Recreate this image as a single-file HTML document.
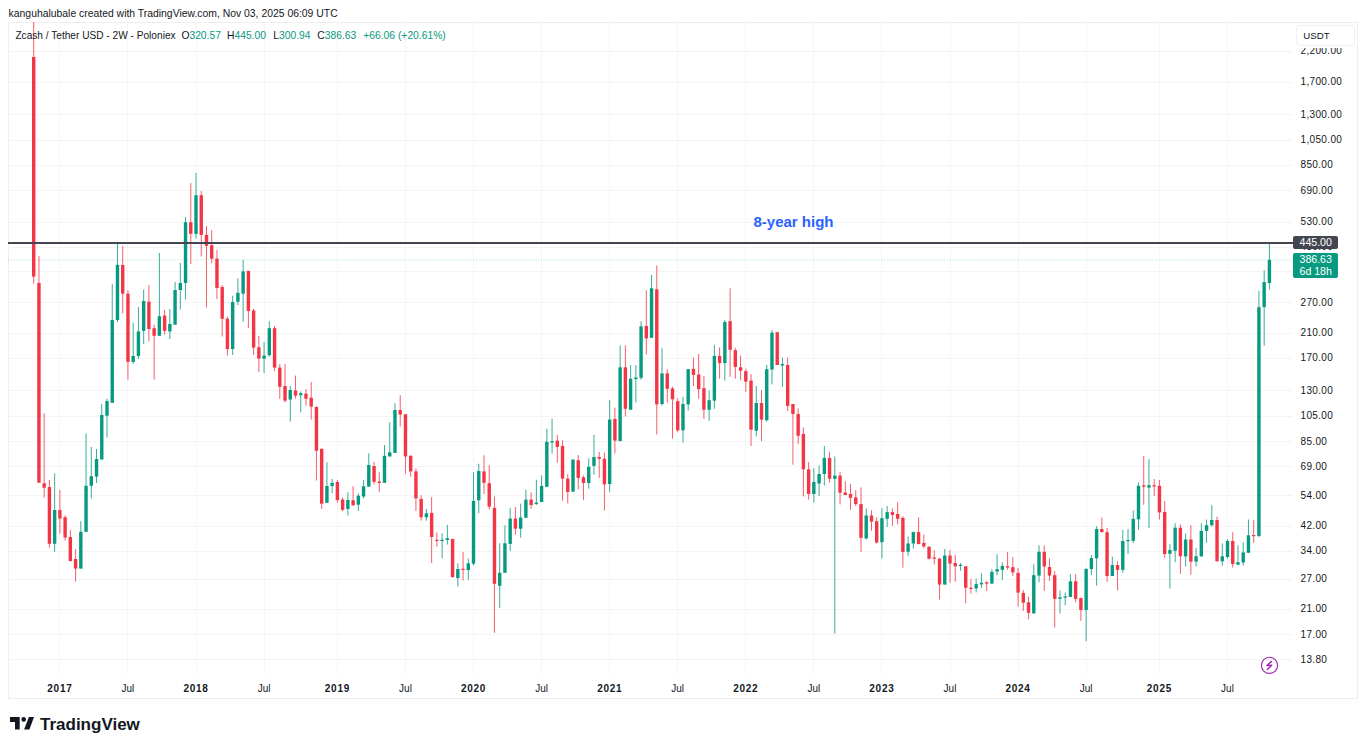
<!DOCTYPE html>
<html><head><meta charset="utf-8"><style>
html,body{margin:0;padding:0;background:#fff;width:1366px;height:748px;overflow:hidden;position:relative;font-family:"Liberation Sans",sans-serif;}
.abs{position:absolute;}
#hdr{position:absolute;left:8.6px;top:7.7px;font-size:10.4px;color:#131722;white-space:nowrap;}
#frame{position:absolute;left:8px;top:22px;width:1350px;height:677px;border:1px solid #eeeeee;box-sizing:border-box;}
.lg{position:absolute;top:29.5px;font-size:10.3px;color:#131722;white-space:nowrap;}
.v{color:#089981;}
.pl{position:absolute;left:1300.5px;font-size:10px;letter-spacing:0.35px;line-height:13px;color:#131722;white-space:nowrap;}
.tl{position:absolute;top:682px;width:60px;text-align:center;font-size:10px;line-height:13px;color:#131722;}
.tl.yr{font-weight:bold;letter-spacing:0.7px;}
#usdt{position:absolute;left:1295.5px;top:25.3px;width:59.3px;height:20.8px;box-sizing:border-box;border:1px solid #eef0f3;border-radius:4px;background:#fff;font-size:9.7px;line-height:19.5px;padding-left:6.8px;color:#131722;}
#b445{position:absolute;left:1293px;top:236px;width:44.7px;height:13.3px;background:#434651;border-radius:2px;color:#fff;font-size:10.6px;line-height:13.3px;padding-left:6.5px;box-sizing:border-box;}
#bcur{position:absolute;left:1293px;top:253.3px;width:44.7px;height:24.4px;background:#089981;border-radius:2px;color:#fff;font-size:10.6px;line-height:11.8px;padding-left:6.5px;padding-top:0.5px;box-sizing:border-box;}
#hi8{position:absolute;left:753.5px;top:213px;font-size:15px;font-weight:bold;color:#2962ff;white-space:nowrap;}
#tvtxt{position:absolute;left:40px;top:715px;font-size:17px;font-weight:bold;color:#131722;white-space:nowrap;}
</style></head><body>
<div id="hdr">kanguhalubale created with TradingView.com, Nov 03, 2025 06:09 UTC</div>
<div id="frame"></div>
<svg class="abs" style="left:0;top:0" width="1366" height="748" viewBox="0 0 1366 748">
<line x1="8" y1="51.5" x2="1292" y2="51.5" stroke="#f4f4f4" stroke-width="1"/>
<line x1="8" y1="82.5" x2="1292" y2="82.5" stroke="#f4f4f4" stroke-width="1"/>
<line x1="8" y1="114.5" x2="1292" y2="114.5" stroke="#f4f4f4" stroke-width="1"/>
<line x1="8" y1="140.5" x2="1292" y2="140.5" stroke="#f4f4f4" stroke-width="1"/>
<line x1="8" y1="165.5" x2="1292" y2="165.5" stroke="#f4f4f4" stroke-width="1"/>
<line x1="8" y1="190.5" x2="1292" y2="190.5" stroke="#f4f4f4" stroke-width="1"/>
<line x1="8" y1="222.5" x2="1292" y2="222.5" stroke="#f4f4f4" stroke-width="1"/>
<line x1="8" y1="247.5" x2="1292" y2="247.5" stroke="#f4f4f4" stroke-width="1"/>
<line x1="8" y1="271.5" x2="1292" y2="271.5" stroke="#f4f4f4" stroke-width="1"/>
<line x1="8" y1="302.5" x2="1292" y2="302.5" stroke="#f4f4f4" stroke-width="1"/>
<line x1="8" y1="333.5" x2="1292" y2="333.5" stroke="#f4f4f4" stroke-width="1"/>
<line x1="8" y1="358.5" x2="1292" y2="358.5" stroke="#f4f4f4" stroke-width="1"/>
<line x1="8" y1="390.5" x2="1292" y2="390.5" stroke="#f4f4f4" stroke-width="1"/>
<line x1="8" y1="416.5" x2="1292" y2="416.5" stroke="#f4f4f4" stroke-width="1"/>
<line x1="8" y1="441.5" x2="1292" y2="441.5" stroke="#f4f4f4" stroke-width="1"/>
<line x1="8" y1="466.5" x2="1292" y2="466.5" stroke="#f4f4f4" stroke-width="1"/>
<line x1="8" y1="495.5" x2="1292" y2="495.5" stroke="#f4f4f4" stroke-width="1"/>
<line x1="8" y1="526.5" x2="1292" y2="526.5" stroke="#f4f4f4" stroke-width="1"/>
<line x1="8" y1="551.5" x2="1292" y2="551.5" stroke="#f4f4f4" stroke-width="1"/>
<line x1="8" y1="579.5" x2="1292" y2="579.5" stroke="#f4f4f4" stroke-width="1"/>
<line x1="8" y1="609.5" x2="1292" y2="609.5" stroke="#f4f4f4" stroke-width="1"/>
<line x1="8" y1="634.5" x2="1292" y2="634.5" stroke="#f4f4f4" stroke-width="1"/>
<line x1="8" y1="659.5" x2="1292" y2="659.5" stroke="#f4f4f4" stroke-width="1"/>
<line x1="59.5" y1="22" x2="59.5" y2="675" stroke="#f6f6f6" stroke-width="1"/>
<line x1="127.5" y1="22" x2="127.5" y2="675" stroke="#f6f6f6" stroke-width="1"/>
<line x1="196.5" y1="22" x2="196.5" y2="675" stroke="#f6f6f6" stroke-width="1"/>
<line x1="264.5" y1="22" x2="264.5" y2="675" stroke="#f6f6f6" stroke-width="1"/>
<line x1="337.5" y1="22" x2="337.5" y2="675" stroke="#f6f6f6" stroke-width="1"/>
<line x1="405.5" y1="22" x2="405.5" y2="675" stroke="#f6f6f6" stroke-width="1"/>
<line x1="473.5" y1="22" x2="473.5" y2="675" stroke="#f6f6f6" stroke-width="1"/>
<line x1="541.5" y1="22" x2="541.5" y2="675" stroke="#f6f6f6" stroke-width="1"/>
<line x1="609.5" y1="22" x2="609.5" y2="675" stroke="#f6f6f6" stroke-width="1"/>
<line x1="677.5" y1="22" x2="677.5" y2="675" stroke="#f6f6f6" stroke-width="1"/>
<line x1="745.5" y1="22" x2="745.5" y2="675" stroke="#f6f6f6" stroke-width="1"/>
<line x1="813.5" y1="22" x2="813.5" y2="675" stroke="#f6f6f6" stroke-width="1"/>
<line x1="881.5" y1="22" x2="881.5" y2="675" stroke="#f6f6f6" stroke-width="1"/>
<line x1="950.5" y1="22" x2="950.5" y2="675" stroke="#f6f6f6" stroke-width="1"/>
<line x1="1018.5" y1="22" x2="1018.5" y2="675" stroke="#f6f6f6" stroke-width="1"/>
<line x1="1086.5" y1="22" x2="1086.5" y2="675" stroke="#f6f6f6" stroke-width="1"/>
<line x1="1159.5" y1="22" x2="1159.5" y2="675" stroke="#f6f6f6" stroke-width="1"/>
<line x1="1227.5" y1="22" x2="1227.5" y2="675" stroke="#f6f6f6" stroke-width="1"/>
<line x1="8" y1="259.8" x2="1292" y2="259.8" stroke="#089981" stroke-width="1" stroke-dasharray="1 1.6" opacity="0.3"/>
<rect x="33.20" y="22.0" width="1" height="261.8" fill="#f23645" opacity="0.8"/>
<rect x="38.44" y="256.0" width="1" height="226.7" fill="#f23645" opacity="0.8"/>
<rect x="43.67" y="413.2" width="1" height="84.4" fill="#f23645" opacity="0.8"/>
<rect x="48.91" y="480.0" width="1" height="67.6" fill="#f23645" opacity="0.8"/>
<rect x="54.14" y="473.4" width="1" height="78.4" fill="#089981" opacity="0.8"/>
<rect x="59.38" y="490.0" width="1" height="43.7" fill="#f23645" opacity="0.8"/>
<rect x="64.62" y="515.3" width="1" height="25.1" fill="#f23645" opacity="0.8"/>
<rect x="69.85" y="530.0" width="1" height="31.7" fill="#f23645" opacity="0.8"/>
<rect x="75.09" y="549.0" width="1" height="32.5" fill="#f23645" opacity="0.8"/>
<rect x="80.32" y="521.0" width="1" height="47.6" fill="#089981" opacity="0.8"/>
<rect x="85.56" y="433.4" width="1" height="98.4" fill="#089981" opacity="0.8"/>
<rect x="90.80" y="447.0" width="1" height="51.5" fill="#089981" opacity="0.8"/>
<rect x="96.03" y="449.0" width="1" height="34.0" fill="#089981" opacity="0.8"/>
<rect x="101.27" y="404.0" width="1" height="55.5" fill="#089981" opacity="0.8"/>
<rect x="106.50" y="398.6" width="1" height="39.0" fill="#089981" opacity="0.8"/>
<rect x="111.74" y="284.0" width="1" height="118.8" fill="#089981" opacity="0.8"/>
<rect x="116.98" y="243.0" width="1" height="78.9" fill="#089981" opacity="0.8"/>
<rect x="122.21" y="246.0" width="1" height="67.3" fill="#f23645" opacity="0.8"/>
<rect x="127.45" y="290.0" width="1" height="89.6" fill="#f23645" opacity="0.8"/>
<rect x="132.68" y="322.5" width="1" height="41.5" fill="#089981" opacity="0.8"/>
<rect x="137.92" y="307.0" width="1" height="52.0" fill="#089981" opacity="0.8"/>
<rect x="143.16" y="289.5" width="1" height="54.3" fill="#089981" opacity="0.8"/>
<rect x="148.39" y="285.0" width="1" height="56.5" fill="#f23645" opacity="0.8"/>
<rect x="153.63" y="324.7" width="1" height="54.9" fill="#f23645" opacity="0.8"/>
<rect x="158.86" y="253.0" width="1" height="82.8" fill="#089981" opacity="0.8"/>
<rect x="164.10" y="310.0" width="1" height="24.6" fill="#f23645" opacity="0.8"/>
<rect x="169.34" y="309.0" width="1" height="30.0" fill="#089981" opacity="0.8"/>
<rect x="174.57" y="282.0" width="1" height="42.7" fill="#089981" opacity="0.8"/>
<rect x="179.81" y="263.0" width="1" height="46.5" fill="#089981" opacity="0.8"/>
<rect x="185.04" y="217.1" width="1" height="82.3" fill="#089981" opacity="0.8"/>
<rect x="190.28" y="183.1" width="1" height="80.9" fill="#f23645" opacity="0.8"/>
<rect x="195.52" y="172.9" width="1" height="65.6" fill="#089981" opacity="0.8"/>
<rect x="200.75" y="191.0" width="1" height="65.6" fill="#f23645" opacity="0.8"/>
<rect x="205.99" y="226.0" width="1" height="81.6" fill="#f23645" opacity="0.8"/>
<rect x="211.22" y="230.0" width="1" height="33.0" fill="#f23645" opacity="0.8"/>
<rect x="216.46" y="250.0" width="1" height="49.0" fill="#f23645" opacity="0.8"/>
<rect x="221.70" y="285.0" width="1" height="51.5" fill="#f23645" opacity="0.8"/>
<rect x="226.93" y="316.7" width="1" height="38.9" fill="#f23645" opacity="0.8"/>
<rect x="232.17" y="295.6" width="1" height="59.4" fill="#089981" opacity="0.8"/>
<rect x="237.40" y="278.5" width="1" height="26.5" fill="#089981" opacity="0.8"/>
<rect x="242.64" y="260.0" width="1" height="61.9" fill="#089981" opacity="0.8"/>
<rect x="247.88" y="270.9" width="1" height="57.1" fill="#f23645" opacity="0.8"/>
<rect x="253.11" y="309.0" width="1" height="46.0" fill="#f23645" opacity="0.8"/>
<rect x="258.35" y="336.0" width="1" height="36.0" fill="#f23645" opacity="0.8"/>
<rect x="263.58" y="342.0" width="1" height="31.0" fill="#089981" opacity="0.8"/>
<rect x="268.82" y="321.3" width="1" height="35.4" fill="#089981" opacity="0.8"/>
<rect x="274.06" y="326.0" width="1" height="45.0" fill="#f23645" opacity="0.8"/>
<rect x="279.29" y="364.0" width="1" height="35.0" fill="#f23645" opacity="0.8"/>
<rect x="284.53" y="364.0" width="1" height="38.5" fill="#f23645" opacity="0.8"/>
<rect x="289.76" y="386.0" width="1" height="35.5" fill="#089981" opacity="0.8"/>
<rect x="295.00" y="375.6" width="1" height="23.1" fill="#f23645" opacity="0.8"/>
<rect x="300.24" y="391.4" width="1" height="21.0" fill="#089981" opacity="0.8"/>
<rect x="305.47" y="389.0" width="1" height="16.7" fill="#f23645" opacity="0.8"/>
<rect x="310.71" y="382.0" width="1" height="37.6" fill="#f23645" opacity="0.8"/>
<rect x="315.94" y="406.3" width="1" height="74.2" fill="#f23645" opacity="0.8"/>
<rect x="321.18" y="448.0" width="1" height="61.0" fill="#f23645" opacity="0.8"/>
<rect x="326.42" y="462.2" width="1" height="40.6" fill="#089981" opacity="0.8"/>
<rect x="331.65" y="479.0" width="1" height="14.2" fill="#089981" opacity="0.8"/>
<rect x="336.89" y="480.0" width="1" height="22.8" fill="#f23645" opacity="0.8"/>
<rect x="342.12" y="497.6" width="1" height="13.7" fill="#f23645" opacity="0.8"/>
<rect x="347.36" y="492.3" width="1" height="23.2" fill="#089981" opacity="0.8"/>
<rect x="352.60" y="486.2" width="1" height="19.8" fill="#f23645" opacity="0.8"/>
<rect x="357.83" y="493.2" width="1" height="17.8" fill="#089981" opacity="0.8"/>
<rect x="363.07" y="480.0" width="1" height="18.4" fill="#089981" opacity="0.8"/>
<rect x="368.30" y="453.3" width="1" height="33.3" fill="#089981" opacity="0.8"/>
<rect x="373.54" y="461.8" width="1" height="22.5" fill="#f23645" opacity="0.8"/>
<rect x="378.78" y="472.3" width="1" height="19.7" fill="#f23645" opacity="0.8"/>
<rect x="384.01" y="445.0" width="1" height="37.8" fill="#089981" opacity="0.8"/>
<rect x="389.25" y="422.3" width="1" height="34.2" fill="#089981" opacity="0.8"/>
<rect x="394.48" y="403.2" width="1" height="49.7" fill="#089981" opacity="0.8"/>
<rect x="399.72" y="395.2" width="1" height="31.4" fill="#f23645" opacity="0.8"/>
<rect x="404.96" y="414.3" width="1" height="59.3" fill="#f23645" opacity="0.8"/>
<rect x="410.19" y="455.2" width="1" height="21.5" fill="#f23645" opacity="0.8"/>
<rect x="415.43" y="468.5" width="1" height="42.5" fill="#f23645" opacity="0.8"/>
<rect x="420.66" y="495.2" width="1" height="25.3" fill="#f23645" opacity="0.8"/>
<rect x="425.90" y="509.0" width="1" height="11.6" fill="#089981" opacity="0.8"/>
<rect x="431.14" y="497.0" width="1" height="66.0" fill="#f23645" opacity="0.8"/>
<rect x="436.37" y="532.5" width="1" height="14.0" fill="#f23645" opacity="0.8"/>
<rect x="441.61" y="533.2" width="1" height="25.3" fill="#089981" opacity="0.8"/>
<rect x="446.84" y="524.8" width="1" height="19.8" fill="#089981" opacity="0.8"/>
<rect x="452.08" y="538.9" width="1" height="39.1" fill="#f23645" opacity="0.8"/>
<rect x="457.32" y="563.3" width="1" height="23.2" fill="#089981" opacity="0.8"/>
<rect x="462.55" y="551.9" width="1" height="28.5" fill="#f23645" opacity="0.8"/>
<rect x="467.79" y="558.5" width="1" height="21.5" fill="#089981" opacity="0.8"/>
<rect x="473.02" y="472.3" width="1" height="93.3" fill="#089981" opacity="0.8"/>
<rect x="478.26" y="463.7" width="1" height="49.6" fill="#089981" opacity="0.8"/>
<rect x="483.50" y="455.2" width="1" height="39.0" fill="#f23645" opacity="0.8"/>
<rect x="488.73" y="465.3" width="1" height="44.1" fill="#f23645" opacity="0.8"/>
<rect x="493.97" y="496.5" width="1" height="136.3" fill="#f23645" opacity="0.8"/>
<rect x="499.20" y="543.3" width="1" height="64.7" fill="#089981" opacity="0.8"/>
<rect x="504.44" y="525.2" width="1" height="47.6" fill="#089981" opacity="0.8"/>
<rect x="509.68" y="508.0" width="1" height="43.0" fill="#089981" opacity="0.8"/>
<rect x="514.91" y="507.0" width="1" height="27.7" fill="#f23645" opacity="0.8"/>
<rect x="520.15" y="503.7" width="1" height="33.9" fill="#089981" opacity="0.8"/>
<rect x="525.38" y="489.7" width="1" height="28.2" fill="#089981" opacity="0.8"/>
<rect x="530.62" y="492.5" width="1" height="16.2" fill="#f23645" opacity="0.8"/>
<rect x="535.86" y="479.8" width="1" height="25.2" fill="#089981" opacity="0.8"/>
<rect x="541.09" y="475.4" width="1" height="26.6" fill="#089981" opacity="0.8"/>
<rect x="546.33" y="428.8" width="1" height="58.0" fill="#089981" opacity="0.8"/>
<rect x="551.56" y="418.9" width="1" height="34.6" fill="#089981" opacity="0.8"/>
<rect x="556.80" y="434.9" width="1" height="27.8" fill="#f23645" opacity="0.8"/>
<rect x="562.04" y="440.2" width="1" height="60.5" fill="#f23645" opacity="0.8"/>
<rect x="567.27" y="474.0" width="1" height="29.4" fill="#f23645" opacity="0.8"/>
<rect x="572.51" y="459.2" width="1" height="32.4" fill="#089981" opacity="0.8"/>
<rect x="577.74" y="455.0" width="1" height="34.3" fill="#f23645" opacity="0.8"/>
<rect x="582.98" y="475.4" width="1" height="24.7" fill="#f23645" opacity="0.8"/>
<rect x="588.22" y="458.3" width="1" height="30.4" fill="#089981" opacity="0.8"/>
<rect x="593.45" y="434.9" width="1" height="39.9" fill="#089981" opacity="0.8"/>
<rect x="598.69" y="452.0" width="1" height="25.9" fill="#f23645" opacity="0.8"/>
<rect x="603.92" y="452.6" width="1" height="58.0" fill="#f23645" opacity="0.8"/>
<rect x="609.16" y="400.2" width="1" height="91.8" fill="#089981" opacity="0.8"/>
<rect x="614.40" y="407.5" width="1" height="46.0" fill="#f23645" opacity="0.8"/>
<rect x="619.63" y="345.4" width="1" height="95.7" fill="#089981" opacity="0.8"/>
<rect x="624.87" y="345.4" width="1" height="71.0" fill="#f23645" opacity="0.8"/>
<rect x="630.10" y="365.0" width="1" height="44.7" fill="#089981" opacity="0.8"/>
<rect x="635.34" y="365.0" width="1" height="37.5" fill="#089981" opacity="0.8"/>
<rect x="640.58" y="321.2" width="1" height="58.5" fill="#089981" opacity="0.8"/>
<rect x="645.81" y="290.2" width="1" height="64.2" fill="#f23645" opacity="0.8"/>
<rect x="651.05" y="275.0" width="1" height="62.8" fill="#089981" opacity="0.8"/>
<rect x="656.28" y="265.5" width="1" height="169.0" fill="#f23645" opacity="0.8"/>
<rect x="661.52" y="348.3" width="1" height="57.3" fill="#089981" opacity="0.8"/>
<rect x="666.76" y="369.2" width="1" height="33.3" fill="#f23645" opacity="0.8"/>
<rect x="671.99" y="386.7" width="1" height="52.0" fill="#f23645" opacity="0.8"/>
<rect x="677.23" y="398.3" width="1" height="33.9" fill="#f23645" opacity="0.8"/>
<rect x="682.46" y="396.8" width="1" height="45.7" fill="#089981" opacity="0.8"/>
<rect x="687.70" y="368.8" width="1" height="41.9" fill="#089981" opacity="0.8"/>
<rect x="692.94" y="357.8" width="1" height="28.2" fill="#f23645" opacity="0.8"/>
<rect x="698.17" y="354.0" width="1" height="44.7" fill="#f23645" opacity="0.8"/>
<rect x="703.41" y="375.9" width="1" height="43.0" fill="#f23645" opacity="0.8"/>
<rect x="708.64" y="390.5" width="1" height="30.3" fill="#089981" opacity="0.8"/>
<rect x="713.88" y="344.8" width="1" height="64.0" fill="#089981" opacity="0.8"/>
<rect x="719.12" y="347.3" width="1" height="31.4" fill="#f23645" opacity="0.8"/>
<rect x="724.35" y="320.0" width="1" height="60.6" fill="#089981" opacity="0.8"/>
<rect x="729.59" y="288.3" width="1" height="88.5" fill="#f23645" opacity="0.8"/>
<rect x="734.82" y="347.9" width="1" height="30.8" fill="#f23645" opacity="0.8"/>
<rect x="740.06" y="355.5" width="1" height="24.7" fill="#f23645" opacity="0.8"/>
<rect x="745.30" y="368.8" width="1" height="22.9" fill="#f23645" opacity="0.8"/>
<rect x="750.53" y="374.0" width="1" height="71.9" fill="#f23645" opacity="0.8"/>
<rect x="755.77" y="386.0" width="1" height="50.4" fill="#089981" opacity="0.8"/>
<rect x="761.00" y="390.0" width="1" height="51.1" fill="#f23645" opacity="0.8"/>
<rect x="766.24" y="365.0" width="1" height="56.5" fill="#089981" opacity="0.8"/>
<rect x="771.48" y="330.2" width="1" height="54.2" fill="#089981" opacity="0.8"/>
<rect x="776.71" y="332.0" width="1" height="33.0" fill="#f23645" opacity="0.8"/>
<rect x="781.95" y="357.7" width="1" height="29.2" fill="#089981" opacity="0.8"/>
<rect x="787.18" y="357.7" width="1" height="53.3" fill="#f23645" opacity="0.8"/>
<rect x="792.42" y="404.0" width="1" height="60.7" fill="#f23645" opacity="0.8"/>
<rect x="797.66" y="408.4" width="1" height="35.6" fill="#f23645" opacity="0.8"/>
<rect x="802.89" y="427.4" width="1" height="69.1" fill="#f23645" opacity="0.8"/>
<rect x="808.13" y="462.0" width="1" height="37.7" fill="#f23645" opacity="0.8"/>
<rect x="813.36" y="468.3" width="1" height="34.3" fill="#089981" opacity="0.8"/>
<rect x="818.60" y="465.5" width="1" height="30.4" fill="#089981" opacity="0.8"/>
<rect x="823.84" y="445.9" width="1" height="39.6" fill="#089981" opacity="0.8"/>
<rect x="829.07" y="452.1" width="1" height="30.5" fill="#f23645" opacity="0.8"/>
<rect x="834.31" y="456.5" width="1" height="177.2" fill="#089981" opacity="0.8"/>
<rect x="839.54" y="471.7" width="1" height="32.8" fill="#f23645" opacity="0.8"/>
<rect x="844.78" y="481.3" width="1" height="13.7" fill="#f23645" opacity="0.8"/>
<rect x="850.02" y="484.0" width="1" height="25.8" fill="#f23645" opacity="0.8"/>
<rect x="855.25" y="490.2" width="1" height="15.8" fill="#f23645" opacity="0.8"/>
<rect x="860.49" y="487.4" width="1" height="64.4" fill="#f23645" opacity="0.8"/>
<rect x="865.72" y="508.3" width="1" height="31.4" fill="#089981" opacity="0.8"/>
<rect x="870.96" y="510.2" width="1" height="20.6" fill="#f23645" opacity="0.8"/>
<rect x="876.20" y="517.4" width="1" height="26.1" fill="#f23645" opacity="0.8"/>
<rect x="881.43" y="508.3" width="1" height="50.2" fill="#089981" opacity="0.8"/>
<rect x="886.67" y="506.0" width="1" height="21.0" fill="#089981" opacity="0.8"/>
<rect x="891.90" y="508.3" width="1" height="17.5" fill="#f23645" opacity="0.8"/>
<rect x="897.14" y="502.2" width="1" height="22.3" fill="#f23645" opacity="0.8"/>
<rect x="902.38" y="516.3" width="1" height="51.4" fill="#f23645" opacity="0.8"/>
<rect x="907.61" y="536.5" width="1" height="19.4" fill="#089981" opacity="0.8"/>
<rect x="912.85" y="531.5" width="1" height="17.1" fill="#089981" opacity="0.8"/>
<rect x="918.08" y="517.4" width="1" height="26.7" fill="#f23645" opacity="0.8"/>
<rect x="923.32" y="534.6" width="1" height="13.7" fill="#f23645" opacity="0.8"/>
<rect x="928.56" y="546.4" width="1" height="13.3" fill="#f23645" opacity="0.8"/>
<rect x="933.79" y="550.2" width="1" height="14.2" fill="#f23645" opacity="0.8"/>
<rect x="939.03" y="557.8" width="1" height="41.7" fill="#f23645" opacity="0.8"/>
<rect x="944.26" y="549.0" width="1" height="35.6" fill="#089981" opacity="0.8"/>
<rect x="949.50" y="550.2" width="1" height="32.5" fill="#f23645" opacity="0.8"/>
<rect x="954.74" y="555.0" width="1" height="26.7" fill="#f23645" opacity="0.8"/>
<rect x="959.97" y="563.0" width="1" height="7.7" fill="#089981" opacity="0.8"/>
<rect x="965.21" y="566.3" width="1" height="37.0" fill="#f23645" opacity="0.8"/>
<rect x="970.44" y="579.0" width="1" height="14.7" fill="#f23645" opacity="0.8"/>
<rect x="975.68" y="578.7" width="1" height="13.7" fill="#089981" opacity="0.8"/>
<rect x="980.92" y="573.2" width="1" height="14.8" fill="#089981" opacity="0.8"/>
<rect x="986.15" y="581.0" width="1" height="10.0" fill="#f23645" opacity="0.8"/>
<rect x="991.39" y="569.1" width="1" height="14.5" fill="#089981" opacity="0.8"/>
<rect x="996.62" y="554.2" width="1" height="21.1" fill="#089981" opacity="0.8"/>
<rect x="1001.86" y="562.4" width="1" height="17.4" fill="#089981" opacity="0.8"/>
<rect x="1007.10" y="551.9" width="1" height="17.9" fill="#f23645" opacity="0.8"/>
<rect x="1012.33" y="556.9" width="1" height="19.1" fill="#f23645" opacity="0.8"/>
<rect x="1017.57" y="568.1" width="1" height="38.4" fill="#f23645" opacity="0.8"/>
<rect x="1022.80" y="590.0" width="1" height="20.9" fill="#f23645" opacity="0.8"/>
<rect x="1028.04" y="596.6" width="1" height="22.6" fill="#f23645" opacity="0.8"/>
<rect x="1033.28" y="564.2" width="1" height="49.2" fill="#089981" opacity="0.8"/>
<rect x="1038.51" y="545.2" width="1" height="37.1" fill="#089981" opacity="0.8"/>
<rect x="1043.75" y="545.5" width="1" height="45.4" fill="#f23645" opacity="0.8"/>
<rect x="1048.98" y="558.5" width="1" height="22.5" fill="#f23645" opacity="0.8"/>
<rect x="1054.22" y="570.9" width="1" height="56.6" fill="#f23645" opacity="0.8"/>
<rect x="1059.46" y="590.5" width="1" height="22.9" fill="#089981" opacity="0.8"/>
<rect x="1064.69" y="592.4" width="1" height="12.8" fill="#089981" opacity="0.8"/>
<rect x="1069.93" y="574.1" width="1" height="22.9" fill="#089981" opacity="0.8"/>
<rect x="1075.16" y="574.1" width="1" height="28.2" fill="#f23645" opacity="0.8"/>
<rect x="1080.40" y="597.6" width="1" height="23.4" fill="#f23645" opacity="0.8"/>
<rect x="1085.64" y="567.8" width="1" height="73.5" fill="#089981" opacity="0.8"/>
<rect x="1090.87" y="555.0" width="1" height="20.2" fill="#089981" opacity="0.8"/>
<rect x="1096.11" y="526.1" width="1" height="59.4" fill="#089981" opacity="0.8"/>
<rect x="1101.34" y="517.6" width="1" height="14.6" fill="#f23645" opacity="0.8"/>
<rect x="1106.58" y="528.0" width="1" height="54.0" fill="#f23645" opacity="0.8"/>
<rect x="1111.82" y="556.6" width="1" height="19.4" fill="#089981" opacity="0.8"/>
<rect x="1117.05" y="561.3" width="1" height="29.2" fill="#f23645" opacity="0.8"/>
<rect x="1122.29" y="530.0" width="1" height="42.8" fill="#089981" opacity="0.8"/>
<rect x="1127.52" y="529.0" width="1" height="25.0" fill="#089981" opacity="0.8"/>
<rect x="1132.76" y="510.5" width="1" height="32.6" fill="#089981" opacity="0.8"/>
<rect x="1138.00" y="482.4" width="1" height="47.2" fill="#089981" opacity="0.8"/>
<rect x="1143.23" y="456.1" width="1" height="48.7" fill="#f23645" opacity="0.8"/>
<rect x="1148.47" y="459.1" width="1" height="68.9" fill="#089981" opacity="0.8"/>
<rect x="1153.70" y="479.0" width="1" height="17.0" fill="#f23645" opacity="0.8"/>
<rect x="1158.94" y="480.0" width="1" height="39.5" fill="#f23645" opacity="0.8"/>
<rect x="1164.18" y="501.0" width="1" height="57.1" fill="#f23645" opacity="0.8"/>
<rect x="1169.41" y="544.2" width="1" height="44.4" fill="#089981" opacity="0.8"/>
<rect x="1174.65" y="523.3" width="1" height="39.0" fill="#089981" opacity="0.8"/>
<rect x="1179.88" y="524.2" width="1" height="49.6" fill="#f23645" opacity="0.8"/>
<rect x="1185.12" y="533.4" width="1" height="33.1" fill="#089981" opacity="0.8"/>
<rect x="1190.36" y="525.2" width="1" height="49.5" fill="#f23645" opacity="0.8"/>
<rect x="1195.59" y="548.0" width="1" height="18.5" fill="#089981" opacity="0.8"/>
<rect x="1200.83" y="523.3" width="1" height="33.7" fill="#089981" opacity="0.8"/>
<rect x="1206.06" y="519.5" width="1" height="23.4" fill="#089981" opacity="0.8"/>
<rect x="1211.30" y="505.2" width="1" height="21.3" fill="#089981" opacity="0.8"/>
<rect x="1216.54" y="516.6" width="1" height="44.7" fill="#f23645" opacity="0.8"/>
<rect x="1221.77" y="543.3" width="1" height="22.5" fill="#089981" opacity="0.8"/>
<rect x="1227.01" y="539.0" width="1" height="19.5" fill="#089981" opacity="0.8"/>
<rect x="1232.24" y="532.2" width="1" height="35.4" fill="#f23645" opacity="0.8"/>
<rect x="1237.48" y="545.2" width="1" height="20.0" fill="#089981" opacity="0.8"/>
<rect x="1242.72" y="542.3" width="1" height="23.5" fill="#089981" opacity="0.8"/>
<rect x="1247.95" y="519.5" width="1" height="33.3" fill="#089981" opacity="0.8"/>
<rect x="1253.19" y="520.0" width="1" height="22.9" fill="#f23645" opacity="0.8"/>
<rect x="1258.42" y="290.9" width="1" height="246.3" fill="#089981" opacity="0.8"/>
<rect x="1263.66" y="270.2" width="1" height="75.6" fill="#089981" opacity="0.8"/>
<rect x="1268.90" y="243.0" width="1" height="46.5" fill="#089981" opacity="0.8"/>
<rect x="32.00" y="57.0" width="3.4" height="219.6" fill="#f23645"/>
<rect x="37.24" y="282.9" width="3.4" height="199.8" fill="#f23645"/>
<rect x="42.47" y="483.3" width="3.4" height="4.4" fill="#f23645"/>
<rect x="47.71" y="487.0" width="3.4" height="56.8" fill="#f23645"/>
<rect x="52.94" y="510.0" width="3.4" height="33.8" fill="#089981"/>
<rect x="58.18" y="510.0" width="3.4" height="8.5" fill="#f23645"/>
<rect x="63.42" y="517.2" width="3.4" height="20.3" fill="#f23645"/>
<rect x="68.65" y="537.0" width="3.4" height="24.0" fill="#f23645"/>
<rect x="73.89" y="559.0" width="3.4" height="9.6" fill="#f23645"/>
<rect x="79.12" y="531.8" width="3.4" height="36.8" fill="#089981"/>
<rect x="84.36" y="485.8" width="3.4" height="46.0" fill="#089981"/>
<rect x="89.60" y="476.2" width="3.4" height="9.6" fill="#089981"/>
<rect x="94.83" y="459.0" width="3.4" height="17.6" fill="#089981"/>
<rect x="100.07" y="415.0" width="3.4" height="44.5" fill="#089981"/>
<rect x="105.30" y="401.0" width="3.4" height="14.7" fill="#089981"/>
<rect x="110.54" y="320.0" width="3.4" height="82.8" fill="#089981"/>
<rect x="115.78" y="264.8" width="3.4" height="55.2" fill="#089981"/>
<rect x="121.01" y="265.0" width="3.4" height="28.7" fill="#f23645"/>
<rect x="126.25" y="293.7" width="3.4" height="68.2" fill="#f23645"/>
<rect x="131.48" y="356.0" width="3.4" height="5.9" fill="#089981"/>
<rect x="136.72" y="331.4" width="3.4" height="24.6" fill="#089981"/>
<rect x="141.96" y="301.0" width="3.4" height="29.8" fill="#089981"/>
<rect x="147.19" y="301.7" width="3.4" height="27.3" fill="#f23645"/>
<rect x="152.43" y="328.2" width="3.4" height="7.6" fill="#f23645"/>
<rect x="157.66" y="316.2" width="3.4" height="19.6" fill="#089981"/>
<rect x="162.90" y="315.6" width="3.4" height="15.2" fill="#f23645"/>
<rect x="168.14" y="324.0" width="3.4" height="7.4" fill="#089981"/>
<rect x="173.37" y="290.0" width="3.4" height="34.7" fill="#089981"/>
<rect x="178.61" y="283.0" width="3.4" height="7.0" fill="#089981"/>
<rect x="183.84" y="222.2" width="3.4" height="60.8" fill="#089981"/>
<rect x="189.08" y="222.2" width="3.4" height="11.6" fill="#f23645"/>
<rect x="194.32" y="195.2" width="3.4" height="38.6" fill="#089981"/>
<rect x="199.55" y="195.2" width="3.4" height="39.7" fill="#f23645"/>
<rect x="204.79" y="234.9" width="3.4" height="10.9" fill="#f23645"/>
<rect x="210.02" y="245.2" width="3.4" height="13.5" fill="#f23645"/>
<rect x="215.26" y="258.7" width="3.4" height="29.3" fill="#f23645"/>
<rect x="220.50" y="287.0" width="3.4" height="31.7" fill="#f23645"/>
<rect x="225.73" y="318.7" width="3.4" height="30.3" fill="#f23645"/>
<rect x="230.97" y="302.0" width="3.4" height="47.0" fill="#089981"/>
<rect x="236.20" y="292.8" width="3.4" height="8.9" fill="#089981"/>
<rect x="241.44" y="271.4" width="3.4" height="22.3" fill="#089981"/>
<rect x="246.68" y="270.9" width="3.4" height="40.1" fill="#f23645"/>
<rect x="251.91" y="310.5" width="3.4" height="37.1" fill="#f23645"/>
<rect x="257.15" y="347.2" width="3.4" height="11.4" fill="#f23645"/>
<rect x="262.38" y="355.6" width="3.4" height="3.0" fill="#089981"/>
<rect x="267.62" y="328.2" width="3.4" height="27.0" fill="#089981"/>
<rect x="272.86" y="328.2" width="3.4" height="39.4" fill="#f23645"/>
<rect x="278.09" y="367.6" width="3.4" height="19.1" fill="#f23645"/>
<rect x="283.33" y="386.0" width="3.4" height="14.6" fill="#f23645"/>
<rect x="288.56" y="390.0" width="3.4" height="9.6" fill="#089981"/>
<rect x="293.80" y="390.5" width="3.4" height="5.1" fill="#f23645"/>
<rect x="299.04" y="393.3" width="3.4" height="1.9" fill="#089981"/>
<rect x="304.27" y="393.7" width="3.4" height="5.0" fill="#f23645"/>
<rect x="309.51" y="397.7" width="3.4" height="8.9" fill="#f23645"/>
<rect x="314.74" y="407.0" width="3.4" height="43.8" fill="#f23645"/>
<rect x="319.98" y="449.0" width="3.4" height="54.7" fill="#f23645"/>
<rect x="325.22" y="486.0" width="3.4" height="16.8" fill="#089981"/>
<rect x="330.45" y="482.8" width="3.4" height="3.2" fill="#089981"/>
<rect x="335.69" y="482.0" width="3.4" height="18.0" fill="#f23645"/>
<rect x="340.92" y="499.5" width="3.4" height="10.3" fill="#f23645"/>
<rect x="346.16" y="500.0" width="3.4" height="9.0" fill="#089981"/>
<rect x="351.40" y="500.3" width="3.4" height="4.9" fill="#f23645"/>
<rect x="356.63" y="495.7" width="3.4" height="9.0" fill="#089981"/>
<rect x="361.87" y="486.2" width="3.4" height="10.3" fill="#089981"/>
<rect x="367.10" y="465.0" width="3.4" height="21.6" fill="#089981"/>
<rect x="372.34" y="466.0" width="3.4" height="15.8" fill="#f23645"/>
<rect x="377.58" y="481.5" width="3.4" height="1.5" fill="#f23645"/>
<rect x="382.81" y="455.8" width="3.4" height="27.0" fill="#089981"/>
<rect x="388.05" y="452.3" width="3.4" height="4.2" fill="#089981"/>
<rect x="393.28" y="410.0" width="3.4" height="42.9" fill="#089981"/>
<rect x="398.52" y="410.0" width="3.4" height="4.6" fill="#f23645"/>
<rect x="403.76" y="414.3" width="3.4" height="42.2" fill="#f23645"/>
<rect x="408.99" y="455.8" width="3.4" height="15.6" fill="#f23645"/>
<rect x="414.23" y="471.4" width="3.4" height="27.0" fill="#f23645"/>
<rect x="419.46" y="499.0" width="3.4" height="18.2" fill="#f23645"/>
<rect x="424.70" y="513.3" width="3.4" height="4.0" fill="#089981"/>
<rect x="429.94" y="512.9" width="3.4" height="24.1" fill="#f23645"/>
<rect x="435.17" y="539.8" width="3.4" height="1.2" fill="#f23645"/>
<rect x="440.41" y="539.8" width="3.4" height="1.2" fill="#089981"/>
<rect x="445.64" y="538.2" width="3.4" height="1.8" fill="#089981"/>
<rect x="450.88" y="538.9" width="3.4" height="38.1" fill="#f23645"/>
<rect x="456.12" y="569.0" width="3.4" height="9.1" fill="#089981"/>
<rect x="461.35" y="568.8" width="3.4" height="1.2" fill="#f23645"/>
<rect x="466.59" y="563.3" width="3.4" height="6.7" fill="#089981"/>
<rect x="471.82" y="500.9" width="3.4" height="62.8" fill="#089981"/>
<rect x="477.06" y="471.0" width="3.4" height="29.3" fill="#089981"/>
<rect x="482.30" y="471.4" width="3.4" height="11.4" fill="#f23645"/>
<rect x="487.53" y="483.2" width="3.4" height="23.4" fill="#f23645"/>
<rect x="492.77" y="507.9" width="3.4" height="75.9" fill="#f23645"/>
<rect x="498.00" y="572.8" width="3.4" height="13.0" fill="#089981"/>
<rect x="503.24" y="543.3" width="3.4" height="29.5" fill="#089981"/>
<rect x="508.48" y="518.6" width="3.4" height="25.3" fill="#089981"/>
<rect x="513.71" y="518.6" width="3.4" height="10.1" fill="#f23645"/>
<rect x="518.95" y="517.6" width="3.4" height="11.1" fill="#089981"/>
<rect x="524.18" y="499.6" width="3.4" height="18.1" fill="#089981"/>
<rect x="529.42" y="499.6" width="3.4" height="5.4" fill="#f23645"/>
<rect x="534.66" y="502.6" width="3.4" height="1.4" fill="#089981"/>
<rect x="539.89" y="485.9" width="3.4" height="16.1" fill="#089981"/>
<rect x="545.13" y="441.7" width="3.4" height="45.1" fill="#089981"/>
<rect x="550.36" y="441.1" width="3.4" height="1.4" fill="#089981"/>
<rect x="555.60" y="440.6" width="3.4" height="6.3" fill="#f23645"/>
<rect x="560.84" y="445.9" width="3.4" height="32.7" fill="#f23645"/>
<rect x="566.07" y="478.6" width="3.4" height="13.4" fill="#f23645"/>
<rect x="571.31" y="459.6" width="3.4" height="32.0" fill="#089981"/>
<rect x="576.54" y="460.2" width="3.4" height="17.7" fill="#f23645"/>
<rect x="581.78" y="477.3" width="3.4" height="5.7" fill="#f23645"/>
<rect x="587.02" y="466.8" width="3.4" height="16.2" fill="#089981"/>
<rect x="592.25" y="457.0" width="3.4" height="8.9" fill="#089981"/>
<rect x="597.49" y="457.0" width="3.4" height="1.8" fill="#f23645"/>
<rect x="602.72" y="458.8" width="3.4" height="25.6" fill="#f23645"/>
<rect x="607.96" y="419.6" width="3.4" height="64.4" fill="#089981"/>
<rect x="613.20" y="418.9" width="3.4" height="21.7" fill="#f23645"/>
<rect x="618.43" y="367.3" width="3.4" height="73.8" fill="#089981"/>
<rect x="623.67" y="367.3" width="3.4" height="41.5" fill="#f23645"/>
<rect x="628.90" y="378.7" width="3.4" height="31.0" fill="#089981"/>
<rect x="634.14" y="377.5" width="3.4" height="1.5" fill="#089981"/>
<rect x="639.38" y="326.4" width="3.4" height="51.4" fill="#089981"/>
<rect x="644.61" y="326.0" width="3.4" height="12.4" fill="#f23645"/>
<rect x="649.85" y="288.3" width="3.4" height="49.5" fill="#089981"/>
<rect x="655.08" y="289.3" width="3.4" height="115.1" fill="#f23645"/>
<rect x="660.32" y="373.4" width="3.4" height="30.6" fill="#089981"/>
<rect x="665.56" y="373.4" width="3.4" height="15.4" fill="#f23645"/>
<rect x="670.79" y="388.4" width="3.4" height="10.9" fill="#f23645"/>
<rect x="676.03" y="401.2" width="3.4" height="29.1" fill="#f23645"/>
<rect x="681.26" y="404.0" width="3.4" height="26.3" fill="#089981"/>
<rect x="686.50" y="369.2" width="3.4" height="35.2" fill="#089981"/>
<rect x="691.74" y="368.8" width="3.4" height="6.1" fill="#f23645"/>
<rect x="696.97" y="374.5" width="3.4" height="14.7" fill="#f23645"/>
<rect x="702.21" y="388.2" width="3.4" height="21.5" fill="#f23645"/>
<rect x="707.44" y="400.2" width="3.4" height="9.5" fill="#089981"/>
<rect x="712.68" y="355.9" width="3.4" height="44.7" fill="#089981"/>
<rect x="717.92" y="355.9" width="3.4" height="7.2" fill="#f23645"/>
<rect x="723.15" y="322.0" width="3.4" height="41.1" fill="#089981"/>
<rect x="728.39" y="321.2" width="3.4" height="28.6" fill="#f23645"/>
<rect x="733.62" y="350.2" width="3.4" height="16.7" fill="#f23645"/>
<rect x="738.86" y="367.3" width="3.4" height="3.4" fill="#f23645"/>
<rect x="744.10" y="371.1" width="3.4" height="10.5" fill="#f23645"/>
<rect x="749.33" y="380.6" width="3.4" height="49.1" fill="#f23645"/>
<rect x="754.57" y="403.0" width="3.4" height="27.7" fill="#089981"/>
<rect x="759.80" y="403.0" width="3.4" height="16.6" fill="#f23645"/>
<rect x="765.04" y="369.2" width="3.4" height="51.0" fill="#089981"/>
<rect x="770.28" y="332.7" width="3.4" height="36.9" fill="#089981"/>
<rect x="775.51" y="332.2" width="3.4" height="32.8" fill="#f23645"/>
<rect x="780.75" y="364.0" width="3.4" height="1.5" fill="#089981"/>
<rect x="785.98" y="365.0" width="3.4" height="40.9" fill="#f23645"/>
<rect x="791.22" y="404.0" width="3.4" height="10.0" fill="#f23645"/>
<rect x="796.46" y="414.0" width="3.4" height="21.8" fill="#f23645"/>
<rect x="801.69" y="433.9" width="3.4" height="35.4" fill="#f23645"/>
<rect x="806.93" y="469.3" width="3.4" height="24.7" fill="#f23645"/>
<rect x="812.16" y="482.0" width="3.4" height="12.0" fill="#089981"/>
<rect x="817.40" y="474.0" width="3.4" height="9.5" fill="#089981"/>
<rect x="822.64" y="457.9" width="3.4" height="16.1" fill="#089981"/>
<rect x="827.87" y="457.9" width="3.4" height="20.9" fill="#f23645"/>
<rect x="833.11" y="475.6" width="3.4" height="3.2" fill="#089981"/>
<rect x="838.34" y="475.6" width="3.4" height="17.1" fill="#f23645"/>
<rect x="843.58" y="492.5" width="3.4" height="2.5" fill="#f23645"/>
<rect x="848.82" y="494.0" width="3.4" height="3.8" fill="#f23645"/>
<rect x="854.05" y="497.3" width="3.4" height="6.8" fill="#f23645"/>
<rect x="859.29" y="504.1" width="3.4" height="33.7" fill="#f23645"/>
<rect x="864.52" y="515.5" width="3.4" height="22.9" fill="#089981"/>
<rect x="869.76" y="515.5" width="3.4" height="6.1" fill="#f23645"/>
<rect x="875.00" y="521.2" width="3.4" height="21.4" fill="#f23645"/>
<rect x="880.23" y="518.2" width="3.4" height="24.0" fill="#089981"/>
<rect x="885.47" y="512.1" width="3.4" height="6.7" fill="#089981"/>
<rect x="890.70" y="512.1" width="3.4" height="2.9" fill="#f23645"/>
<rect x="895.94" y="514.0" width="3.4" height="4.8" fill="#f23645"/>
<rect x="901.18" y="517.8" width="3.4" height="34.1" fill="#f23645"/>
<rect x="906.41" y="543.5" width="3.4" height="8.2" fill="#089981"/>
<rect x="911.65" y="532.1" width="3.4" height="11.4" fill="#089981"/>
<rect x="916.88" y="532.1" width="3.4" height="12.0" fill="#f23645"/>
<rect x="922.12" y="542.9" width="3.4" height="3.5" fill="#f23645"/>
<rect x="927.36" y="546.7" width="3.4" height="12.0" fill="#f23645"/>
<rect x="932.59" y="557.5" width="3.4" height="1.2" fill="#f23645"/>
<rect x="937.83" y="558.7" width="3.4" height="25.9" fill="#f23645"/>
<rect x="943.06" y="555.5" width="3.4" height="29.1" fill="#089981"/>
<rect x="948.30" y="555.5" width="3.4" height="8.0" fill="#f23645"/>
<rect x="953.54" y="563.1" width="3.4" height="3.2" fill="#f23645"/>
<rect x="958.77" y="564.8" width="3.4" height="1.2" fill="#089981"/>
<rect x="964.01" y="566.3" width="3.4" height="21.4" fill="#f23645"/>
<rect x="969.24" y="587.7" width="3.4" height="1.2" fill="#f23645"/>
<rect x="974.48" y="584.1" width="3.4" height="4.3" fill="#089981"/>
<rect x="979.72" y="582.8" width="3.4" height="1.6" fill="#089981"/>
<rect x="984.95" y="582.4" width="3.4" height="1.2" fill="#f23645"/>
<rect x="990.19" y="571.9" width="3.4" height="11.7" fill="#089981"/>
<rect x="995.42" y="569.1" width="3.4" height="2.4" fill="#089981"/>
<rect x="1000.66" y="566.0" width="3.4" height="3.8" fill="#089981"/>
<rect x="1005.90" y="566.3" width="3.4" height="1.3" fill="#f23645"/>
<rect x="1011.13" y="567.2" width="3.4" height="5.2" fill="#f23645"/>
<rect x="1016.37" y="572.9" width="3.4" height="19.7" fill="#f23645"/>
<rect x="1021.60" y="593.0" width="3.4" height="9.7" fill="#f23645"/>
<rect x="1026.84" y="602.3" width="3.4" height="10.5" fill="#f23645"/>
<rect x="1032.08" y="575.2" width="3.4" height="38.2" fill="#089981"/>
<rect x="1037.31" y="551.8" width="3.4" height="23.8" fill="#089981"/>
<rect x="1042.55" y="551.8" width="3.4" height="14.7" fill="#f23645"/>
<rect x="1047.78" y="567.0" width="3.4" height="8.6" fill="#f23645"/>
<rect x="1053.02" y="575.2" width="3.4" height="23.7" fill="#f23645"/>
<rect x="1058.26" y="597.2" width="3.4" height="1.5" fill="#089981"/>
<rect x="1063.49" y="596.4" width="3.4" height="1.2" fill="#089981"/>
<rect x="1068.73" y="581.3" width="3.4" height="15.7" fill="#089981"/>
<rect x="1073.96" y="581.3" width="3.4" height="17.6" fill="#f23645"/>
<rect x="1079.20" y="598.1" width="3.4" height="11.9" fill="#f23645"/>
<rect x="1084.44" y="569.0" width="3.4" height="41.0" fill="#089981"/>
<rect x="1089.67" y="558.1" width="3.4" height="10.9" fill="#089981"/>
<rect x="1094.91" y="529.0" width="3.4" height="29.3" fill="#089981"/>
<rect x="1100.14" y="529.0" width="3.4" height="3.2" fill="#f23645"/>
<rect x="1105.38" y="532.2" width="3.4" height="43.8" fill="#f23645"/>
<rect x="1110.62" y="565.1" width="3.4" height="10.9" fill="#089981"/>
<rect x="1115.85" y="565.1" width="3.4" height="4.8" fill="#f23645"/>
<rect x="1121.09" y="541.0" width="3.4" height="28.9" fill="#089981"/>
<rect x="1126.32" y="540.0" width="3.4" height="1.2" fill="#089981"/>
<rect x="1131.56" y="518.9" width="3.4" height="21.9" fill="#089981"/>
<rect x="1136.80" y="485.8" width="3.4" height="33.5" fill="#089981"/>
<rect x="1142.03" y="485.3" width="3.4" height="1.4" fill="#f23645"/>
<rect x="1147.27" y="485.2" width="3.4" height="2.4" fill="#089981"/>
<rect x="1152.50" y="485.2" width="3.4" height="1.3" fill="#f23645"/>
<rect x="1157.74" y="485.8" width="3.4" height="26.6" fill="#f23645"/>
<rect x="1162.98" y="511.9" width="3.4" height="42.1" fill="#f23645"/>
<rect x="1168.21" y="550.0" width="3.4" height="3.8" fill="#089981"/>
<rect x="1173.45" y="527.7" width="3.4" height="23.1" fill="#089981"/>
<rect x="1178.68" y="527.7" width="3.4" height="28.6" fill="#f23645"/>
<rect x="1183.92" y="539.5" width="3.4" height="16.9" fill="#089981"/>
<rect x="1189.16" y="539.5" width="3.4" height="22.1" fill="#f23645"/>
<rect x="1194.39" y="556.3" width="3.4" height="5.3" fill="#089981"/>
<rect x="1199.63" y="530.9" width="3.4" height="25.4" fill="#089981"/>
<rect x="1204.86" y="525.2" width="3.4" height="5.7" fill="#089981"/>
<rect x="1210.10" y="520.0" width="3.4" height="5.2" fill="#089981"/>
<rect x="1215.34" y="520.0" width="3.4" height="41.3" fill="#f23645"/>
<rect x="1220.57" y="556.3" width="3.4" height="5.0" fill="#089981"/>
<rect x="1225.81" y="541.0" width="3.4" height="16.0" fill="#089981"/>
<rect x="1231.04" y="541.0" width="3.4" height="23.0" fill="#f23645"/>
<rect x="1236.28" y="562.2" width="3.4" height="2.4" fill="#089981"/>
<rect x="1241.52" y="552.4" width="3.4" height="10.1" fill="#089981"/>
<rect x="1246.75" y="535.3" width="3.4" height="17.5" fill="#089981"/>
<rect x="1251.99" y="535.0" width="3.4" height="1.2" fill="#f23645"/>
<rect x="1257.22" y="307.1" width="3.4" height="228.9" fill="#089981"/>
<rect x="1262.46" y="282.1" width="3.4" height="25.0" fill="#089981"/>
<rect x="1267.70" y="259.8" width="3.4" height="23.2" fill="#089981"/>
<rect x="8" y="242" width="1285" height="2" fill="#434651"/>
</svg>
<div class="lg" style="left:15.4px;font-size:10.13px">Zcash / Tether USD - 2W - Poloniex</div>
<div class="lg" style="left:181.4px">O<span class="v">320.57</span></div>
<div class="lg" style="left:227px">H<span class="v">445.00</span></div>
<div class="lg" style="left:273.3px">L<span class="v">300.94</span></div>
<div class="lg" style="left:317.3px">C<span class="v">386.63</span></div>
<div class="lg v" style="left:363.3px">+66.06 (+20.61%)</div>
<div class="pl" style="top:44.4px">2,200.00</div><div class="pl" style="top:75.3px">1,700.00</div><div class="pl" style="top:107.5px">1,300.00</div><div class="pl" style="top:133.1px">1,050.00</div><div class="pl" style="top:158.4px">850.00</div><div class="pl" style="top:183.5px">690.00</div><div class="pl" style="top:215.1px">530.00</div><div class="pl" style="top:240.2px">430.00</div><div class="pl" style="top:264.8px">350.00</div><div class="pl" style="top:295.9px">270.00</div><div class="pl" style="top:326.1px">210.00</div><div class="pl" style="top:351.4px">170.00</div><div class="pl" style="top:383.6px">130.00</div><div class="pl" style="top:409.2px">105.00</div><div class="pl" style="top:434.5px">85.00</div><div class="pl" style="top:459.5px">69.00</div><div class="pl" style="top:488.9px">54.00</div><div class="pl" style="top:519.1px">42.00</div><div class="pl" style="top:544.4px">34.00</div><div class="pl" style="top:572.0px">27.00</div><div class="pl" style="top:602.2px">21.00</div><div class="pl" style="top:627.5px">17.00</div><div class="pl" style="top:652.5px">13.80</div>
<div class="abs" style="left:1293px;top:23px;width:63px;height:25.3px;background:#fff"></div>
<div id="usdt">USDT</div>
<div id="b445">445.00</div>
<div id="bcur">386.63<br>6d 18h</div>
<div id="hi8">8-year high</div>
<div class="tl yr" style="left:29.9px">2017</div><div class="tl" style="left:97.9px">Jul</div><div class="tl yr" style="left:166.0px">2018</div><div class="tl" style="left:234.1px">Jul</div><div class="tl yr" style="left:307.4px">2019</div><div class="tl" style="left:375.5px">Jul</div><div class="tl yr" style="left:443.5px">2020</div><div class="tl" style="left:511.6px">Jul</div><div class="tl yr" style="left:579.7px">2021</div><div class="tl" style="left:647.7px">Jul</div><div class="tl yr" style="left:715.8px">2022</div><div class="tl" style="left:783.9px">Jul</div><div class="tl yr" style="left:851.9px">2023</div><div class="tl" style="left:920.0px">Jul</div><div class="tl yr" style="left:988.1px">2024</div><div class="tl" style="left:1056.1px">Jul</div><div class="tl yr" style="left:1129.4px">2025</div><div class="tl" style="left:1197.5px">Jul</div>
<svg class="abs" style="left:0;top:0" width="1366" height="748" viewBox="0 0 1366 748">
<path d="M10,717 H19.7 V729.5 H15 V722 H10 Z" fill="#131722"/>
<circle cx="23.7" cy="719.4" r="2.3" fill="#131722"/>
<path d="M28.9,717 H34 L29.4,729.5 H24.1 Z" fill="#131722"/>
<circle cx="1269.5" cy="665.3" r="8.1" fill="none" stroke="#9c27b0" stroke-width="1.1"/>
<path d="M1271.6,661.4 L1266.9,665.5 L1271.9,665.1 L1267.4,669.4" fill="none" stroke="#9c27b0" stroke-width="1.4" stroke-linejoin="round" stroke-linecap="round"/>
</svg>
<div id="tvtxt">TradingView</div>
</body></html>
